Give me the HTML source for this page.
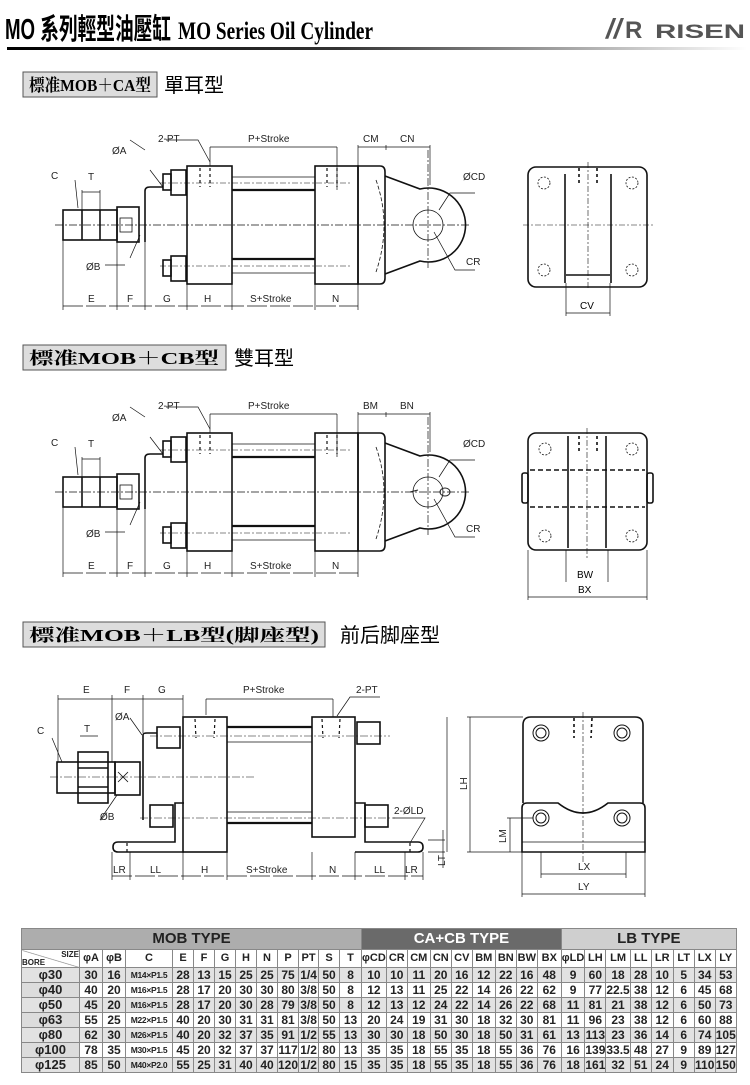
<!DOCTYPE html>
<html><head><meta charset="utf-8">
<style>
html,body{margin:0;padding:0;background:#fff;}
body{width:750px;height:1085px;position:relative;overflow:hidden;font-family:"Liberation Sans","Noto Sans CJK TC",sans-serif;}
svg{position:absolute;left:0;top:0;}
table{position:absolute;left:21px;top:928px;border-collapse:collapse;table-layout:fixed;font-family:"Liberation Sans","Noto Sans CJK TC",sans-serif;font-weight:bold;color:#222;}
td{border:1px solid #888;padding:0;text-align:center;font-size:12px;height:14px;line-height:14px;white-space:nowrap;overflow:hidden;}
tr.h td{height:20px;font-size:15px;line-height:20px;}
tr.c td{height:17px;line-height:17px;font-size:11px;background:#fff;}
tr.g td{background:#e2e2e2;}
td.b{background:#dcdcdc;font-size:13px;}
td.cc{font-size:8.5px;letter-spacing:-0.3px;}
</style></head><body>
<svg width="750" height="1085" viewBox="0 0 750 1085" font-family="Liberation Sans, sans-serif">
<defs>
<linearGradient id="gl" x1="0" x2="1" y1="0" y2="0"><stop offset="0" stop-color="#000"/><stop offset="0.45" stop-color="#333"/><stop offset="1" stop-color="#fff"/></linearGradient>
</defs>
<!-- header -->
<text x="5" y="39" font-size="29" font-weight="bold" font-family="Liberation Sans, Noto Sans CJK TC, sans-serif" textLength="166" lengthAdjust="spacingAndGlyphs">MO 系列輕型油壓缸</text>
<text x="178" y="39" font-size="25" font-weight="bold" font-family="Liberation Serif, serif" textLength="195" lengthAdjust="spacingAndGlyphs">MO Series Oil Cylinder</text>
<text x="606" y="38" font-size="28" font-weight="bold" fill="#555" font-style="italic">//</text>
<text x="625" y="38" font-size="24" font-weight="bold" fill="#555">R</text>
<text x="655" y="38" font-size="19" font-weight="bold" fill="#555" textLength="90" lengthAdjust="spacingAndGlyphs">RISEN</text>
<rect x="7" y="47" width="740" height="3" fill="url(#gl)"/>

<!-- section labels -->
<rect x="23" y="72" width="134" height="25" fill="#ddd" stroke="#555"/>
<text x="29" y="91" font-size="17" font-weight="bold" font-family="Liberation Serif, Noto Serif CJK SC, serif" textLength="122" lengthAdjust="spacingAndGlyphs">標准MOB＋CA型</text>
<text x="164" y="92" font-size="20" font-family="Liberation Sans, Noto Sans CJK TC, sans-serif">單耳型</text>
<rect x="23" y="345" width="203" height="25" fill="#ddd" stroke="#555"/>
<text x="29" y="364" font-size="17" font-weight="bold" font-family="Liberation Serif, Noto Serif CJK SC, serif" textLength="190" lengthAdjust="spacingAndGlyphs">標准MOB＋CB型</text>
<text x="234" y="365" font-size="20" font-family="Liberation Sans, Noto Sans CJK TC, sans-serif">雙耳型</text>
<rect x="23" y="622" width="302" height="25" fill="#ddd" stroke="#555"/>
<text x="29" y="641" font-size="17" font-weight="bold" font-family="Liberation Serif, Noto Serif CJK SC, serif" textLength="290" lengthAdjust="spacingAndGlyphs">標准MOB＋LB型(脚座型)</text>
<text x="340" y="642" font-size="20" font-family="Liberation Sans, Noto Sans CJK TC, sans-serif">前后脚座型</text>

<g id="cyl" fill="none" stroke="#111" stroke-width="1.6">
  <line x1="55" y1="225" x2="470" y2="225" stroke-width="0.7" stroke-dasharray="8,2,2,2"/>
  <rect x="63" y="210" width="54" height="30"/>
  <line x1="82" y1="210" x2="82" y2="240"/><line x1="100" y1="210" x2="100" y2="240"/>
  <rect x="117" y="207" width="22" height="35"/>
  <rect x="120" y="218" width="12" height="14" stroke-width="0.8"/>
  <path d="M145,242 L145,191 Q145,187 150,187 L163,187"/>
  <rect x="163" y="174" width="8" height="16"/><rect x="171" y="170" width="15" height="25"/>
  <rect x="163" y="260" width="8" height="16"/><rect x="171" y="256" width="15" height="25"/>
  <rect x="187" y="166" width="45" height="118"/>
  <line x1="232" y1="177" x2="315" y2="177" stroke-width="0.8"/>
  <line x1="232" y1="190" x2="315" y2="190" stroke-width="2.2"/>
  <line x1="232" y1="259" x2="315" y2="259" stroke-width="2.2"/>
  <line x1="232" y1="273" x2="315" y2="273" stroke-width="0.8"/>
  <rect x="315" y="166" width="43" height="118"/>
  <path d="M358,166 L380,166 Q385,166 385,172 L385,278 Q385,284 380,284 L358,284 Z"/>
  <path d="M385,176 L420,189 A37,37 0 1 1 420,261 L385,274"/>
  <path d="M376,180 Q392,225 376,272" stroke-dasharray="4,2" stroke-width="0.8"/>
  <circle cx="428" cy="225" r="15" stroke-width="0.8"/>
  <line x1="428" y1="150" x2="428" y2="268" stroke-width="0.7" stroke-dasharray="8,2,2,2"/>
  <line x1="160" y1="183" x2="350" y2="183" stroke-width="0.6" stroke-dasharray="6,2,2,2"/>
  <line x1="160" y1="266" x2="350" y2="266" stroke-width="0.6" stroke-dasharray="6,2,2,2"/>
  <g stroke-dasharray="3,3" stroke-width="1.2">
    <line x1="200" y1="168" x2="200" y2="187"/><line x1="210" y1="168" x2="210" y2="187"/>
    <line x1="327" y1="168" x2="327" y2="187"/><line x1="337" y1="168" x2="337" y2="187"/>
  </g>
  <g stroke-width="0.7">
    <line x1="210" y1="147" x2="337" y2="147"/><line x1="210" y1="147" x2="210" y2="166"/><line x1="337" y1="147" x2="337" y2="190"/>
    <line x1="358" y1="147" x2="430" y2="147"/><line x1="358" y1="145" x2="358" y2="166"/><line x1="386" y1="145" x2="386" y2="150"/><line x1="430" y1="145" x2="430" y2="185"/>
    <line x1="63" y1="306" x2="358" y2="306" stroke-dasharray="20,3"/>
    <line x1="63" y1="240" x2="63" y2="310"/><line x1="117" y1="242" x2="117" y2="310"/><line x1="145" y1="242" x2="145" y2="310"/>
    <line x1="187" y1="284" x2="187" y2="310"/><line x1="232" y1="284" x2="232" y2="310"/><line x1="315" y1="284" x2="315" y2="310"/><line x1="358" y1="284" x2="358" y2="310"/>
    <path d="M145,150 L130,140 M163,187 L150,170 M166,140 L198,140 L210,162 M130,258 L140,235 M105,265 L125,265 M75,180 L78,208 M439,210 L450,193 L475,193 M434,232 L455,270 L475,270"/>
    <line x1="82" y1="190" x2="82" y2="210"/><line x1="100" y1="190" x2="100" y2="210"/><line x1="82" y1="192" x2="100" y2="192"/>
  </g>
</g>
<g font-size="10" fill="#222">
  <text x="158" y="142">2-PT</text><text x="248" y="142">P+Stroke</text>
  <text x="112" y="154">ØA</text><text x="51" y="179">C</text><text x="88" y="180">T</text><text x="86" y="270">ØB</text>
  <text x="463" y="180">ØCD</text><text x="466" y="265">CR</text>
  <text x="88" y="302">E</text><text x="127" y="302">F</text><text x="163" y="302">G</text><text x="204" y="302">H</text>
  <text x="250" y="302">S+Stroke</text><text x="332" y="302">N</text>
  <text x="363" y="142">CM</text><text x="400" y="142">CN</text>
</g>

<use href="#cyl" transform="translate(0,267)"/>
<g font-size="10" fill="#222">
  <text x="158" y="409">2-PT</text><text x="248" y="409">P+Stroke</text>
  <text x="112" y="421">ØA</text><text x="51" y="446">C</text><text x="88" y="447">T</text><text x="86" y="537">ØB</text>
  <text x="463" y="447">ØCD</text><text x="466" y="532">CR</text>
  <text x="88" y="569">E</text><text x="127" y="569">F</text><text x="163" y="569">G</text><text x="204" y="569">H</text>
  <text x="250" y="569">S+Stroke</text><text x="332" y="569">N</text>
  <text x="363" y="409">BM</text><text x="400" y="409">BN</text>
</g>
<g fill="none" stroke="#222" stroke-width="1"><path d="M410,492 L418,490 M440,492 a5,4 0 1 0 10,0 a5,4 0 1 0 -10,0"/></g>

<!-- End view 1 -->
<g fill="none" stroke="#111" stroke-width="1.6">
  <rect x="528" y="167" width="119" height="120" rx="8"/>
  <line x1="565" y1="174" x2="565" y2="283"/><line x1="611" y1="174" x2="611" y2="283"/>
  <line x1="566" y1="275" x2="610" y2="275"/>
  <g stroke-width="0.8" stroke-dasharray="2,1.5">
    <circle cx="544" cy="183" r="6"/><circle cx="632" cy="183" r="6"/><circle cx="544" cy="270" r="6"/><circle cx="632" cy="270" r="6"/>
  </g>
  <line x1="523" y1="225" x2="653" y2="225" stroke-width="0.6" stroke-dasharray="6,2,2,2"/>
  <line x1="588" y1="162" x2="588" y2="290" stroke-width="0.6" stroke-dasharray="6,2,2,2"/>
  <g stroke-dasharray="3,3"><line x1="579" y1="168" x2="579" y2="186"/><line x1="597" y1="168" x2="597" y2="186"/></g>
  <g stroke-width="0.7"><line x1="566" y1="283" x2="566" y2="316"/><line x1="610" y1="283" x2="610" y2="316"/><line x1="566" y1="313" x2="610" y2="313"/></g>
</g>
<text x="580" y="309" font-size="10">CV</text>

<!-- End view 2 -->
<g fill="none" stroke="#111" stroke-width="1.6">
  <rect x="528" y="433" width="119" height="117" rx="8"/>
  <rect x="522" y="473" width="6" height="30" rx="2"/><rect x="647" y="473" width="6" height="30" rx="2"/>
  <line x1="568" y1="436" x2="568" y2="548"/><line x1="606" y1="436" x2="606" y2="548"/>
  <line x1="530" y1="470" x2="645" y2="470" stroke-dasharray="5,3"/>
  <line x1="530" y1="507" x2="645" y2="507" stroke-dasharray="5,3"/>
  <g stroke-width="0.8" stroke-dasharray="2,1.5">
    <circle cx="545" cy="449" r="6"/><circle cx="632" cy="449" r="6"/><circle cx="545" cy="536" r="6"/><circle cx="632" cy="536" r="6"/>
  </g>
  <line x1="587" y1="428" x2="587" y2="560" stroke-width="0.6" stroke-dasharray="6,2,2,2"/>
  <g stroke-dasharray="3,3"><line x1="579" y1="436" x2="579" y2="452"/><line x1="597" y1="436" x2="597" y2="452"/></g>
  <g stroke-width="0.7"><line x1="566" y1="550" x2="566" y2="582"/><line x1="608" y1="550" x2="608" y2="582"/>
  <line x1="528" y1="550" x2="528" y2="600"/><line x1="647" y1="550" x2="647" y2="600"/><line x1="528" y1="597" x2="647" y2="597"/></g>
</g>
<text x="577" y="578" font-size="10">BW</text><text x="578" y="593" font-size="10">BX</text>

<!-- Drawing 3 LB -->
<g fill="none" stroke="#111" stroke-width="1.6">
  <line x1="50" y1="777" x2="255" y2="777" stroke-width="0.6" stroke-dasharray="8,2,2,2"/>
  <rect x="57" y="762" width="58" height="31"/>
  <rect x="78" y="752" width="30" height="51"/>
  <line x1="78" y1="768" x2="108" y2="768"/><line x1="78" y1="787" x2="108" y2="787"/>
  <rect x="115" y="762" width="25" height="33"/>
  <path d="M118,772 L128,782 M118,782 L128,772" stroke-width="0.8"/>
  <path d="M143,820 L143,735 Q143,733 147,733 L157,733"/>
  <rect x="157" y="727" width="23" height="21"/><rect x="150" y="805" width="23" height="22"/>
  <rect x="183" y="717" width="44" height="135"/>
  <line x1="227" y1="727" x2="312" y2="727" stroke-width="2.2"/>
  <line x1="227" y1="742" x2="312" y2="742" stroke-width="0.8"/>
  <line x1="227" y1="812" x2="312" y2="812" stroke-width="0.8"/>
  <line x1="227" y1="823" x2="312" y2="823" stroke-width="2.2"/>
  <rect x="312" y="717" width="43" height="120"/>
  <path d="M184,803 L175,803 L175,842 L118,842 Q113,842 113,847 Q113,852 118,852 L184,852"/>
  <path d="M355,803 L365,803 L365,842 L418,842 Q423,842 423,847 Q423,852 418,852 L355,852"/>
  <rect x="357" y="722" width="23" height="22"/><rect x="365" y="805" width="23" height="22"/>
  <line x1="140" y1="818" x2="395" y2="818" stroke-width="0.6" stroke-dasharray="8,2,2,2"/>
  <line x1="150" y1="736" x2="390" y2="736" stroke-width="0.6" stroke-dasharray="8,2,2,2"/>
  <g stroke-dasharray="3,3" stroke-width="1.2">
    <line x1="195" y1="719" x2="196" y2="738"/><line x1="215" y1="719" x2="214" y2="738"/>
    <line x1="322" y1="719" x2="323" y2="738"/><line x1="340" y1="719" x2="339" y2="738"/>
    <line x1="127" y1="843" x2="127" y2="852"/><line x1="410" y1="843" x2="410" y2="852"/>
  </g>
  <g stroke-width="0.7">
    <line x1="58" y1="699" x2="183" y2="699"/><line x1="58" y1="695" x2="58" y2="762"/><line x1="112" y1="695" x2="112" y2="762"/><line x1="143" y1="695" x2="143" y2="733"/><line x1="183" y1="695" x2="183" y2="717"/>
    <line x1="206" y1="699" x2="333" y2="699"/><line x1="206" y1="699" x2="206" y2="715"/><line x1="333" y1="699" x2="333" y2="717"/>
    <line x1="112" y1="876" x2="423" y2="876" stroke-dasharray="20,3"/>
    <line x1="112" y1="852" x2="112" y2="880"/><line x1="130" y1="852" x2="130" y2="880"/><line x1="183" y1="852" x2="183" y2="880"/><line x1="227" y1="852" x2="227" y2="880"/><line x1="312" y1="852" x2="312" y2="880"/><line x1="355" y1="852" x2="355" y2="880"/><line x1="405" y1="852" x2="405" y2="880"/><line x1="423" y1="852" x2="423" y2="880"/>
    <path d="M142,735 L130,718 M52,738 L62,762 M100,820 L117,795 M337,716 L350,697 L380,697 M393,818 L425,818 L410,843"/>
    <line x1="80" y1="736" x2="98" y2="736"/>
    <line x1="428" y1="840" x2="445" y2="840"/><line x1="428" y1="852" x2="445" y2="852"/><line x1="443" y1="830" x2="443" y2="868"/>
    <line x1="447" y1="717" x2="447" y2="852"/>
  </g>
</g>
<g font-size="10" fill="#222">
  <text x="83" y="693">E</text><text x="124" y="693">F</text><text x="158" y="693">G</text>
  <text x="243" y="693">P+Stroke</text><text x="356" y="693">2-PT</text>
  <text x="37" y="734">C</text><text x="84" y="732">T</text><text x="115" y="720">ØA</text><text x="100" y="820">ØB</text>
  <text x="394" y="814">2-ØLD</text>
  <text x="113" y="873">LR</text><text x="150" y="873">LL</text><text x="201" y="873">H</text><text x="246" y="873">S+Stroke</text><text x="329" y="873">N</text><text x="374" y="873">LL</text><text x="405" y="873">LR</text>
  <text transform="translate(445,866) rotate(-90)">LT</text>
</g>

<!-- End view 3 -->
<g fill="none" stroke="#111" stroke-width="1.6">
  <path d="M523,803 L523,725 Q523,717 531,717 L635,717 Q643,717 643,725 L643,803"/>
  <path d="M527,803 L558,803 Q583,823 608,803 L640,803 Q645,803 645,808 L645,852 L522,852 L522,808 Q522,803 527,803"/>
  <line x1="522" y1="842" x2="645" y2="842" stroke-width="0.8"/>
  <g stroke-width="1"><circle cx="541" cy="733" r="8"/><circle cx="541" cy="733" r="5"/><circle cx="622" cy="733" r="8"/><circle cx="622" cy="733" r="5"/>
  <circle cx="541" cy="818" r="8"/><circle cx="541" cy="818" r="5"/><circle cx="622" cy="818" r="8"/><circle cx="622" cy="818" r="5"/></g>
  <line x1="583" y1="712" x2="583" y2="862" stroke-width="0.6" stroke-dasharray="6,2,2,2"/>
  <g stroke-dasharray="3,3"><line x1="574" y1="718" x2="574" y2="738"/><line x1="592" y1="718" x2="591" y2="738"/></g>
  <g stroke-width="0.7">
    <line x1="467" y1="717" x2="523" y2="717"/><line x1="467" y1="852" x2="522" y2="852"/><line x1="470" y1="717" x2="470" y2="852"/>
    <line x1="507" y1="818" x2="533" y2="818"/><line x1="510" y1="818" x2="510" y2="852"/>
    <line x1="541" y1="852" x2="541" y2="878"/><line x1="626" y1="852" x2="626" y2="878"/><line x1="541" y1="874" x2="626" y2="874"/>
    <line x1="522" y1="852" x2="522" y2="897"/><line x1="645" y1="852" x2="645" y2="897"/><line x1="522" y1="894" x2="645" y2="894"/>
  </g>
</g>
<g font-size="10" fill="#222">
  <text transform="translate(467,790) rotate(-90)">LH</text>
  <text transform="translate(506,843) rotate(-90)">LM</text>
  <text x="578" y="870">LX</text><text x="578" y="890">LY</text>
</g>
</svg>

<table>
<colgroup>
<col style="width:58px"><col style="width:23px"><col style="width:23px"><col style="width:47px"><col style="width:21px"><col style="width:21px"><col style="width:21px"><col style="width:21px"><col style="width:21px"><col style="width:21px"><col style="width:20px"><col style="width:21px"><col style="width:22px">
<col style="width:22px"><col style="width:21px"><col style="width:23px"><col style="width:21px"><col style="width:21px"><col style="width:23px"><col style="width:21px"><col style="width:21px"><col style="width:24px">
<col style="width:20px"><col style="width:21px"><col style="width:24px"><col style="width:21px"><col style="width:22px"><col style="width:21px"><col style="width:21px"><col style="width:21px">
</colgroup>
<tr class="h"><td colspan="13" style="background:#adadad;">MOB TYPE</td><td colspan="9" style="background:#6a6a6a;color:#fff;">CA+CB TYPE</td><td colspan="8" style="background:#cfcfcf;">LB TYPE</td></tr>
<tr class="c"><td style="background:linear-gradient(to top right,#fff 48%,#888 50%,#fff 52%);font-size:8px;text-align:left;line-height:8px;"><span style="float:right;">SIZE</span><br>BORE</td><td>φA</td><td>φB</td><td>C</td><td>E</td><td>F</td><td>G</td><td>H</td><td>N</td><td>P</td><td>PT</td><td>S</td><td>T</td><td>φCD</td><td>CR</td><td>CM</td><td>CN</td><td>CV</td><td>BM</td><td>BN</td><td>BW</td><td>BX</td><td>φLD</td><td>LH</td><td>LM</td><td>LL</td><td>LR</td><td>LT</td><td>LX</td><td>LY</td></tr>
<tr class="g"><td class="b">φ30</td><td>30</td><td>16</td><td class="cc">M14×P1.5</td><td>28</td><td>13</td><td>15</td><td>25</td><td>25</td><td>75</td><td>1/4</td><td>50</td><td>8</td><td>10</td><td>10</td><td>11</td><td>20</td><td>16</td><td>12</td><td>22</td><td>16</td><td>48</td><td>9</td><td>60</td><td>18</td><td>28</td><td>10</td><td>5</td><td>34</td><td>53</td></tr>
<tr><td class="b">φ40</td><td>40</td><td>20</td><td class="cc">M16×P1.5</td><td>28</td><td>17</td><td>20</td><td>30</td><td>30</td><td>80</td><td>3/8</td><td>50</td><td>8</td><td>12</td><td>13</td><td>11</td><td>25</td><td>22</td><td>14</td><td>26</td><td>22</td><td>62</td><td>9</td><td>77</td><td>22.5</td><td>38</td><td>12</td><td>6</td><td>45</td><td>68</td></tr>
<tr class="g"><td class="b">φ50</td><td>45</td><td>20</td><td class="cc">M16×P1.5</td><td>28</td><td>17</td><td>20</td><td>30</td><td>28</td><td>79</td><td>3/8</td><td>50</td><td>8</td><td>12</td><td>13</td><td>12</td><td>24</td><td>22</td><td>14</td><td>26</td><td>22</td><td>68</td><td>11</td><td>81</td><td>21</td><td>38</td><td>12</td><td>6</td><td>50</td><td>73</td></tr>
<tr><td class="b">φ63</td><td>55</td><td>25</td><td class="cc">M22×P1.5</td><td>40</td><td>20</td><td>30</td><td>31</td><td>31</td><td>81</td><td>3/8</td><td>50</td><td>13</td><td>20</td><td>24</td><td>19</td><td>31</td><td>30</td><td>18</td><td>32</td><td>30</td><td>81</td><td>11</td><td>96</td><td>23</td><td>38</td><td>12</td><td>6</td><td>60</td><td>88</td></tr>
<tr class="g"><td class="b">φ80</td><td>62</td><td>30</td><td class="cc">M26×P1.5</td><td>40</td><td>20</td><td>32</td><td>37</td><td>35</td><td>91</td><td>1/2</td><td>55</td><td>13</td><td>30</td><td>30</td><td>18</td><td>50</td><td>30</td><td>18</td><td>50</td><td>31</td><td>61</td><td>13</td><td>113</td><td>23</td><td>36</td><td>14</td><td>6</td><td>74</td><td>105</td></tr>
<tr><td class="b">φ100</td><td>78</td><td>35</td><td class="cc">M30×P1.5</td><td>45</td><td>20</td><td>32</td><td>37</td><td>37</td><td>117</td><td>1/2</td><td>80</td><td>13</td><td>35</td><td>35</td><td>18</td><td>55</td><td>35</td><td>18</td><td>55</td><td>36</td><td>76</td><td>16</td><td>139</td><td>33.5</td><td>48</td><td>27</td><td>9</td><td>89</td><td>127</td></tr>
<tr class="g"><td class="b">φ125</td><td>85</td><td>50</td><td class="cc">M40×P2.0</td><td>55</td><td>25</td><td>31</td><td>40</td><td>40</td><td>120</td><td>1/2</td><td>80</td><td>15</td><td>35</td><td>35</td><td>18</td><td>55</td><td>35</td><td>18</td><td>55</td><td>36</td><td>76</td><td>18</td><td>161</td><td>32</td><td>51</td><td>24</td><td>9</td><td>110</td><td>150</td></tr>
</table>
</body></html>
